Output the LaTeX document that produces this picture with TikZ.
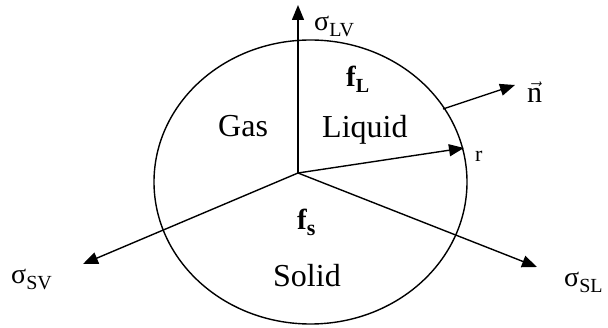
\documentclass[tikz,border=0pt]{standalone}
\usepackage{fontspec}
\setmainfont{Liberation Serif}
\usetikzlibrary{arrows.meta,shapes.geometric}
\newcommand\sigsub[1]{σ\raisebox{-6pt}{\fontsize{20}{20}\selectfont #1}}
\tikzset{
  vec/.style={line width=1.4pt,-{Triangle[length=15pt,width=12pt]}},
  lbl/.style={inner sep=0pt,anchor=base west,font=\fontsize{32}{33}\selectfont},
  sgl/.style={inner sep=0pt,anchor=base west,font=\fontsize{28}{30}\selectfont},
  fl/.style={inner sep=0pt,anchor=base west,font=\fontsize{29}{30}\selectfont\bfseries}
}
\begin{document}
\begin{tikzpicture}[x=1pt,y=-1pt]
\useasboundingbox (0,0) rectangle (608,328);
\node[draw,line width=1.4pt,ellipse,minimum width=313pt,minimum height=284pt,inner sep=0pt] (circ) at (310.5,182) {};
\coordinate (O) at (298,173);
\coordinate (tLV) at (298,5);
\coordinate (tSV) at (83,264);
\coordinate (tSL) at (537,267);
\coordinate (tr) at (464,148);
\coordinate (nS) at (443,109);
\coordinate (nE) at (515,85);
\draw[vec] (O) -- (tLV);
\draw[vec] (O) -- (tSV);
\draw[vec] (O) -- (tSL);
\draw[vec] (O) -- (tr);
\draw[vec] (nS) -- (nE);
\node[sgl] (sLV) at (314,31) {\sigsub{LV}};
\node[sgl] (sSV) at (11,284) {\sigsub{SV}};
\node[sgl] (sSL) at (564,287) {\sigsub{SL}};
\node[fl] (fL) at (346,87) {f\raisebox{-6pt}{\fontsize{20}{20}\selectfont L}};
\node[fl] (fS) at (297,230) {f\raisebox{-6pt}{\fontsize{22}{22}\selectfont s}};
\node[lbl] (gas) at (218,137) {Gas};
\node[lbl] (liq) at (322,138) {Liquid};
\node[lbl] (sol) at (273,287) {Solid};
\node[lbl,font=\fontsize{30}{30}\selectfont] (n) at (527,103) {$\vec{\hbox{n}}$};
\node[lbl,font=\fontsize{22}{22}\selectfont] (r) at (475,162) {r};
\end{tikzpicture}
\end{document}
